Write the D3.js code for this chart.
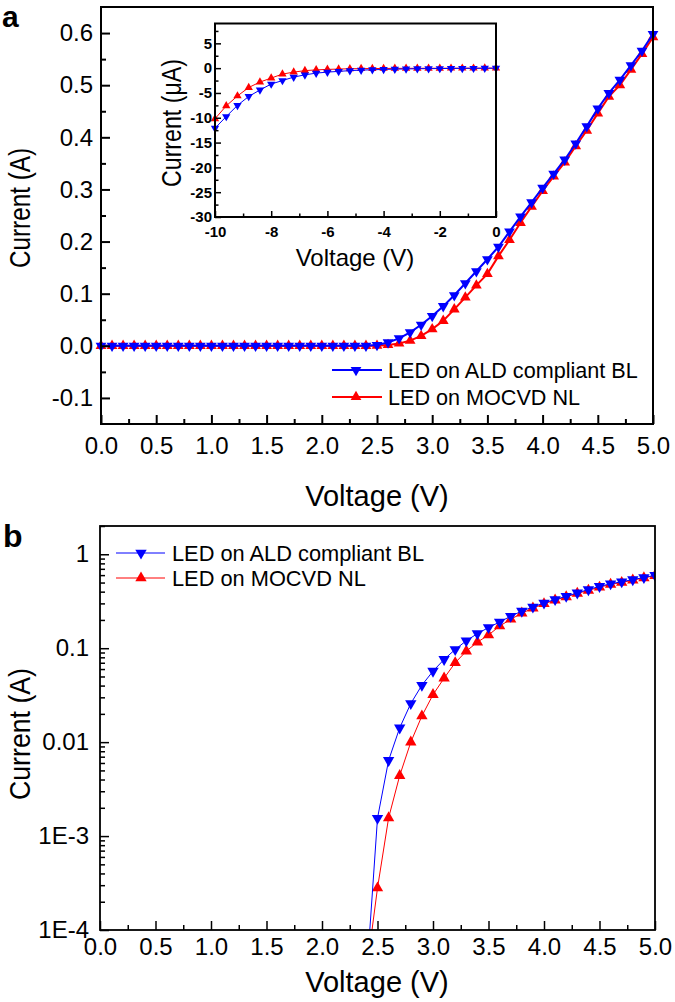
<!DOCTYPE html>
<html><head><meta charset="utf-8">
<script src="https://cdn.jsdelivr.net/npm/d3@7"></script>
<style>
html,body{margin:0;padding:0;background:#fff;}
svg{display:block;font-family:Arial,"Liberation Sans",sans-serif;}
</style></head>
<body><svg id="c" width="675" height="1002"></svg>
<script>
// ---------- data ----------
const voltages = [0.0,0.1,0.2,0.3,0.4,0.5,0.6,0.7,0.8,0.9,1.0,1.1,1.2,1.3,1.4,1.5,1.6,1.7,1.8,1.9,2.0,2.1,2.2,2.3,2.4,2.5,2.6,2.7,2.8,2.9,3.0,3.1,3.2,3.3,3.4,3.5,3.6,3.7,3.8,3.9,4.0,4.1,4.2,4.3,4.4,4.5,4.6,4.7,4.8,4.9,5.0];
const currentALD = [0,0,0,0,0,0,0,0,0,0,0,0,0,0,0,0,0,0,0,0,0,0,0,0,0.00003,0.00155,0.0064,0.0142,0.0258,0.0404,0.057,0.076,0.097,0.120,0.143,0.166,0.190,0.219,0.248,0.275,0.303,0.330,0.357,0.388,0.421,0.455,0.485,0.510,0.538,0.566,0.598];
const currentMOCVD = [0,0,0,0,0,0,0,0,0,0,0,0,0,0,0,0,0,0,0,0,0,0,0,0,0.000035,0.00028,0.00156,0.0044,0.0100,0.019,0.032,0.048,0.070,0.093,0.116,0.138,0.172,0.203,0.236,0.267,0.297,0.325,0.352,0.383,0.413,0.446,0.478,0.500,0.530,0.560,0.592];
const insetVoltages = [-10,-9.6,-9.2,-8.8,-8.4,-8.0,-7.6,-7.2,-6.8,-6.4,-6.0,-5.6,-5.2,-4.8,-4.4,-4.0,-3.6,-3.2,-2.8,-2.4,-2.0,-1.6,-1.2,-0.8,-0.4,0];
const insetALD = [-12.1,-9.75,-7.5,-5.7,-4.4,-3.2,-2.5,-1.8,-1.35,-1.0,-0.8,-0.65,-0.5,-0.4,-0.32,-0.26,-0.2,-0.16,-0.12,-0.1,-0.08,-0.06,-0.04,-0.03,-0.02,-0.01];
const insetMOCVD = [-10.2,-7.6,-5.6,-3.9,-2.8,-2.0,-1.2,-0.8,-0.5,-0.35,-0.25,-0.18,-0.12,-0.1,-0.08,-0.06,-0.05,-0.04,-0.03,-0.02,-0.02,-0.01,-0.01,-0.01,0,0];
const seriesNames = ["LED on ALD compliant BL","LED on MOCVD NL"];
const seriesColors = ["#0000ff","#ff0000"];
const xTicksMain = [0,0.5,1,1.5,2,2.5,3,3.5,4,4.5,5];
const xMinorMain = [0.25,0.75,1.25,1.75,2.25,2.75,3.25,3.75,4.25,4.75];
const yTicksA = [-0.1,0,0.1,0.2,0.3,0.4,0.5,0.6];
const yMinorA = [-0.05,0.05,0.15,0.25,0.35,0.45,0.55];
const xTicksInset = [-10,-8,-6,-4,-2,0];
const xMinorInset = [-9,-7,-5,-3,-1];
const yTicksInset = [5,0,-5,-10,-15,-20,-25,-30];
const yMinorInset = [7.5,2.5,-2.5,-7.5,-12.5,-17.5,-22.5,-27.5];
const yTicksB = [1e-4,1e-3,0.01,0.1,1];
const yTickLabelsB = ["1E-4","1E-3","0.01","0.1","1"];

const svg = d3.select("#c");
const defs = svg.append("defs");

function triPath(size){
  return d3.symbol().type(d3.symbolTriangle).size(size)();
}
function drawSeries(g, x, y, xs, ys, color, down, lw, msize){
  const pts = xs.map((v,i)=>[v, ys[i]]).filter(p=>p[1]!=null);
  g.append("path").datum(pts)
    .attr("fill","none").attr("stroke",color).attr("stroke-width",lw)
    .attr("d", d3.line().x(d=>x(d[0])).y(d=>y(d[1])));
  g.selectAll(null).data(pts).enter().append("path")
    .attr("d", triPath(msize))
    .attr("fill", color)
    .attr("transform", d=>`translate(${x(d[0])},${y(d[1])})${down?" rotate(180)":""}`);
}
function axes(g, x, y, opt){
  const [x0,x1] = x.range(), [y0,y1] = y.range();
  const ax = g.append("g").attr("transform",`translate(0,${y0})`)
    .call(d3.axisBottom(x).tickValues(opt.xt).tickSize(-opt.maj).tickPadding(opt.xpad).tickFormat(opt.xf));
  const axm = g.append("g").attr("transform",`translate(0,${y0})`)
    .call(d3.axisBottom(x).tickValues(opt.xm).tickSize(-opt.min).tickFormat(""));
  const ay = g.append("g").attr("transform",`translate(${x0},0)`)
    .call(d3.axisLeft(y).tickValues(opt.yt).tickSize(-opt.maj).tickPadding(opt.ypad).tickFormat(opt.yf));
  const aym = g.append("g").attr("transform",`translate(${x0},0)`)
    .call(d3.axisLeft(y).tickValues(opt.ym).tickSize(-opt.min).tickFormat(""));
  [ax,axm,ay,aym].forEach(a=>{
    a.select(".domain").remove();
    a.selectAll(".tick line").attr("stroke","#000").attr("stroke-width",opt.tw);
    a.selectAll("text").attr("fill","#000").style("font-size",opt.fs+"px")
      .style("font-weight",opt.fw||"normal").style("font-family","Arial, 'Liberation Sans', sans-serif")
      .text(function(){return this.textContent.replace("−","-");});
  });
  ax.selectAll("text").attr("dy","0.71em");
  g.append("rect").attr("x",x0).attr("y",y1).attr("width",x1-x0).attr("height",y0-y1)
    .attr("fill","none").attr("stroke","#000").attr("stroke-width",opt.fw2);
}
function ytitle(g, txt, cx, cy, fs, len){
  g.append("text").attr("transform",`translate(${cx},${cy}) rotate(-90)`)
    .attr("text-anchor","middle").attr("dy","0.35em")
    .style("font-size",fs+"px").attr("textLength",len).attr("lengthAdjust","spacingAndGlyphs").text(txt);
}

// ---------- Panel a ----------
const xa = d3.scaleLinear().domain([0,5]).range([101,653]);
const ya = d3.scaleLinear().domain([-0.15,0.65]).range([424,7]);
const ga = svg.append("g");
const ca = ga.append("g");
drawSeries(ca, xa, ya, voltages, currentMOCVD, seriesColors[1], false, 2, 50);
drawSeries(ca, xa, ya, voltages, currentALD, seriesColors[0], true, 2, 50);
axes(ga, xa, ya, {xt:xTicksMain, xm:xMinorMain, yt:yTicksA, ym:yMinorA, maj:9, min:5, xpad:13, ypad:8, tw:2, fs:24, fw2:2,
  xf:d3.format(".1f"), yf:d3.format(".1f")});

// inset
const xi = d3.scaleLinear().domain([-10,0]).range([215,496]);
const yi = d3.scaleLinear().domain([-30,9]).range([217,23.5]);
const gi = svg.append("g");
gi.append("rect").attr("x",215).attr("y",23.5).attr("width",281).attr("height",193.5).attr("fill","#fff");
drawSeries(gi, xi, yi, insetVoltages, insetMOCVD, seriesColors[1], false, 1, 30);
drawSeries(gi, xi, yi, insetVoltages, insetALD, seriesColors[0], true, 1, 30);
axes(gi, xi, yi, {xt:xTicksInset, xm:xMinorInset, yt:yTicksInset, ym:yMinorInset, maj:6, min:3.5, xpad:9, ypad:3, tw:1.5, fs:15, fw:"bold", fw2:2,
  xf:d=>String(d), yf:d=>String(d)});
gi.append("text").attr("x",355).attr("y",266).attr("text-anchor","middle").style("font-size","24px").text("Voltage (V)");
ytitle(gi, "Current (μA)", 172, 123, 27, 128);

// legend a
const lega = ga.append("g");
[0,1].forEach(i=>{
  const yy = [370,397][i];
  lega.append("line").attr("x1",332).attr("x2",382).attr("y1",yy).attr("y2",yy).attr("stroke",seriesColors[i]).attr("stroke-width",2);
  lega.append("path").attr("d",triPath(50)).attr("fill",seriesColors[i])
    .attr("transform",`translate(356,${yy})${i===0?" rotate(180)":""}`);
  lega.append("text").attr("x",388).attr("y",yy).attr("dy","0.36em").style("font-size","21.6px").text(seriesNames[i]);
});
ga.append("text").attr("x",377).attr("y",506).attr("text-anchor","middle").style("font-size","29px").text("Voltage (V)");
ytitle(ga, "Current (A)", 19, 208, 30, 120);
svg.append("text").attr("x",2).attr("y",27).style("font-size","30px").style("font-weight","bold").text("a");

// ---------- Panel b ----------
const xb = d3.scaleLinear().domain([0,5]).range([100,655]);
const yb = d3.scaleLog().domain([1e-4,2]).range([930,526]);
const gb = svg.append("g");
defs.append("clipPath").attr("id","clipb").append("rect").attr("x",100).attr("y",526).attr("width",555).attr("height",404);
const cb = gb.append("g").attr("clip-path","url(#clipb)");
const posALD = currentALD.map(v=>v>0?v:null);
const posMOCVD = currentMOCVD.map(v=>v>0?v:null);
drawSeries(cb, xb, yb, voltages, posMOCVD, seriesColors[1], false, 1, 56);
drawSeries(cb, xb, yb, voltages, posALD, seriesColors[0], true, 1, 56);
const yMinorB = [];
[1e-4,1e-3,1e-2,1e-1,1].forEach(d=>{for(let k=2;k<=9;k++){const v=d*k; if(v<=2) yMinorB.push(v);}});
axes(gb, xb, yb, {xt:xTicksMain, xm:xMinorMain, yt:yTicksB, ym:yMinorB, maj:9, min:5, xpad:8, ypad:11, tw:1.5, fs:24, fw2:1.8,
  xf:d3.format(".1f"), yf:d=>yTickLabelsB[yTicksB.indexOf(d)]});
const legb = gb.append("g");
[0,1].forEach(i=>{
  const yy = [553,578][i];
  legb.append("line").attr("x1",116).attr("x2",165).attr("y1",yy).attr("y2",yy).attr("stroke",seriesColors[i]).attr("stroke-width",1);
  legb.append("path").attr("d",triPath(56)).attr("fill",seriesColors[i])
    .attr("transform",`translate(141,${yy})${i===0?" rotate(180)":""}`);
  legb.append("text").attr("x",172).attr("y",yy).attr("dy","0.36em").style("font-size","21.8px").text(seriesNames[i]);
});
gb.append("text").attr("x",377).attr("y",992).attr("text-anchor","middle").style("font-size","29px").text("Voltage (V)");
ytitle(gb, "Current (A)", 19, 734, 30, 132);
svg.append("text").attr("x",3).attr("y",547).style("font-size","32px").style("font-weight","bold").text("b");
</script></body></html>
